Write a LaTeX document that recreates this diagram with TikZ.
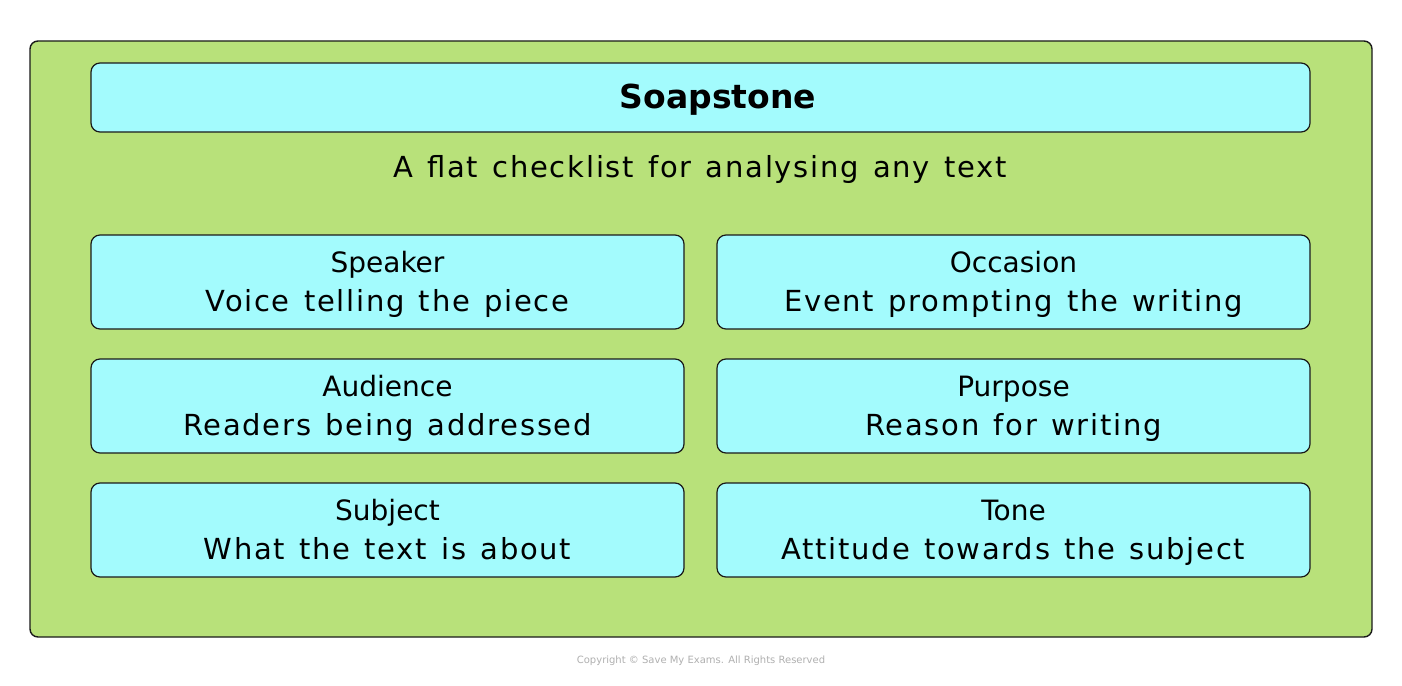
\documentclass[tikz,border=0pt]{standalone}
\usepackage{fontspec}
\setmainfont{DejaVu Sans}
\newfontfamily\spacedfont[LetterSpace=6,WordSpace=1.3]{DejaVu Sans}
\definecolor{outergreen}{HTML}{B8E17A}
\definecolor{cyanbox}{HTML}{A3FBFD}
\definecolor{edge}{HTML}{1A1A1A}
\definecolor{copygray}{HTML}{B0B0B0}
\tikzset{
  outerbox/.style={draw=edge, line width=1.4pt, fill=outergreen, rounded corners=8pt},
  itembox/.style={draw=edge, line width=1.2pt, fill=cyanbox, rounded corners=9pt, minimum width=593pt, minimum height=94pt, inner sep=0pt},
  titlebox/.style={draw=edge, line width=1.2pt, fill=cyanbox, rounded corners=9pt, minimum width=1219pt, minimum height=69pt, inner sep=0pt},
  itemhead/.style={font=\fontsize{28}{32}\selectfont},
  itemdesc/.style={font=\spacedfont\fontsize{29}{33}\selectfont}
}
\begin{document}
\begin{tikzpicture}[x=1pt,y=-1pt]
\useasboundingbox (0,0) rectangle (1402,685);
\fill[white] (0,0) rectangle (1402,685);
\node[outerbox, minimum width=1342pt, minimum height=596pt, inner sep=0pt] (outer) at (701,339) {};
\node[titlebox] (title) at (700.5,97.5) {};
\node[font=\fontsize{33}{38}\selectfont\bfseries, anchor=base] (titletext) at (718,108) {Soapstone};
\node[font=\spacedfont\fontsize{29}{33}\selectfont, anchor=base] (subtitle) at (700,177) {A flat checklist for analysing any text};
\foreach \nm/\cx/\cy/\hd/\ds in {
  speaker/387.5/282/Speaker/Voice telling the piece,
  occasion/1013.5/282/Occasion/Event prompting the writing,
  audience/387.5/406/Audience/Readers being addressed,
  purpose/1013.5/406/Purpose/Reason for writing,
  subject/387.5/530/Subject/What the text is about,
  tone/1013.5/530/Tone/Attitude towards the subject} {
  \node[itembox] (\nm) at (\cx,\cy) {};
  \node[itemhead, anchor=base] (\nm-h) at (\cx,{\cy-10}) {\hd};
  \node[itemdesc, anchor=base] (\nm-d) at (\cx,{\cy+29}) {\ds};
}
\node[font=\fontsize{10}{12}\selectfont, text=copygray] (copy) at (701,661) {Copyright © Save My Exams. All Rights Reserved};
\end{tikzpicture}
\end{document}
